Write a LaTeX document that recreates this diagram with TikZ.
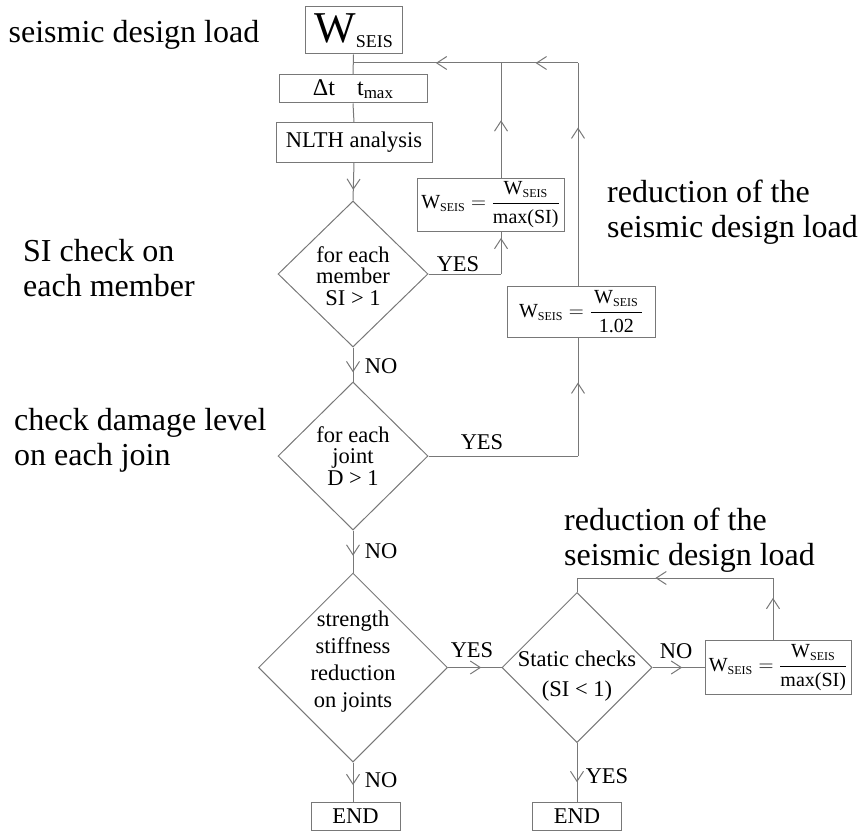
\documentclass[tikz,border=0pt]{standalone}
\usepackage{fontspec}
\setmainfont{Liberation Serif}
\usetikzlibrary{shapes.geometric,arrows.meta,decorations.markings,calc}
\definecolor{lineg}{RGB}{120,120,120}
\newcommand{\fs}[2]{\fontsize{#1}{#2}\selectfont}
\newcommand{\wsub}{\mbox{W}_{\mbox{\fs{12}{12}SEIS}}}
\newcommand{\wfrac}[1]{$\wsub=\displaystyle\frac{\wsub}{\mbox{#1}}$}
\begin{document}
\begin{tikzpicture}[x=1pt,y=-1pt,
  conn/.style={lineg, line width=1pt},
  arrowat/.style={postaction={decorate,decoration={markings,mark=at position #1 with {\arrow{Straight Barb[length=10pt,width=13pt,line width=1pt]}}}}},
  procbox/.style={draw=lineg, line width=1pt, inner sep=0pt, align=center, text=black},
  fbox/.style={procbox, font=\fs{20}{24}},
  decision/.style={diamond, draw=lineg, line width=1pt, inner sep=0pt},
  dtext/.style={inner sep=0pt, align=center, font=\fs{22.5}{21.5}},
  lbl/.style={inner sep=0pt, font=\fs{22.5}{22.5}},
  side/.style={inner sep=0pt, align=left, font=\fs{32}{35}}
]
\useasboundingbox (0,0) rectangle (859,832);

% side texts
\node[side] (s1) at (134,35) {seismic design load};
\node[side, anchor=west] (s2) at (23,268) {SI check on\\each member};
\node[side, anchor=west] (s3) at (14,440) {check damage level\\on each join};
\node[side, anchor=west] (s4) at (607,212) {reduction of the\\seismic design load};
\node[side, anchor=west] (s5) at (564,540) {reduction of the\\seismic design load};

% boxes
\node[procbox, minimum width=97pt, minimum height=47pt] (w) at (353.5,30.5)
  {{\fs{44}{44}W}{\fs{18}{18}\raisebox{-5pt}{SEIS}}};
\node[procbox, minimum width=148pt, minimum height=28pt] (dt) at (353,89)
  {{\fs{24}{24}Δt\hspace{22pt}t}{\fs{17}{17}\raisebox{-3pt}{max}}};
\node[procbox, minimum width=156pt, minimum height=39pt, font=\fs{22.5}{22.5}] (nl) at (354,142.5) {NLTH analysis};
\node[fbox, minimum width=147pt, minimum height=53pt] (b1) at (490.5,204.5) {\wfrac{max(SI)}};
\node[fbox, minimum width=148pt, minimum height=51pt] (b2) at (581,311.5) {\wfrac{\hspace{8pt}1.02\hspace{8pt}}};
\node[fbox, minimum width=146pt, minimum height=54pt] (b3) at (778,667.5) {\wfrac{max(SI)}};
\node[procbox, minimum width=89pt, minimum height=28pt, font=\fs{22.5}{22.5}] (e1) at (355.5,816) {END};
\node[procbox, minimum width=89pt, minimum height=28pt, font=\fs{22.5}{22.5}] (e2) at (577,816) {END};

% decisions
\node[decision, minimum width=150pt, minimum height=146pt] (d1) at (353,274) {};
\node[dtext] (t1) at (353,276) {for each\\member\\SI > 1};
\node[decision, minimum width=150pt, minimum height=148pt] (d2) at (353,456) {};
\node[dtext] (t2) at (353,456) {for each\\joint\\D > 1};
\node[decision, minimum width=189pt, minimum height=189pt] (d3) at (353,667.5) {};
\node[dtext, font=\fs{22.5}{27}] (t3) at (353,662) {strength\\stiffness\\reduction\\on joints};
\node[decision, minimum width=150pt, minimum height=150pt] (d4) at (577,667.5) {};
\node[dtext, font=\fs{22.5}{30}] (t4) at (577,676) {Static checks\\(SI < 1)};

% junction coordinates
\coordinate (cT) at (353,63);
\coordinate (cA) at (501,63);
\coordinate (cB) at (578,63);
\coordinate (k1) at (501,274);
\coordinate (k2) at (578,456);
\coordinate (k3) at (773,578);
\coordinate (k4) at (577,578);

% connectors
\draw[conn] (w.south) -- (dt.north);
\draw[conn] (dt.south) -- (nl.north);
\draw[conn, arrowat=0.72] (nl.south) -- (d1.north);
\draw[conn, arrowat=0.73] (d1.south) -- (d2.north);
\draw[conn] (d1.east) -- (k1);
\draw[conn, arrowat=0.85] (k1) -- (b1.south -| k1);
\draw[conn, arrowat=0.5] (b1.north -| k1) -- (cA);
\draw[conn, arrowat=0.44] (cA) -- (cT);
\draw[conn] (d2.east) -- (k2);
\draw[conn, arrowat=0.62] (k2) -- (b2.south -| k2);
\draw[conn, arrowat=0.71] (b2.north -| k2) -- (cB);
\draw[conn, arrowat=0.55] (cB) -- (cA);
\draw[conn, arrowat=0.6] (d2.south) -- (d3.north);
\draw[conn, arrowat=0.62] (d3.east) -- (d4.west);
\draw[conn, arrowat=0.57] (d4.east) -- (b3.west);
\draw[conn, arrowat=0.68] (b3.north -| k3) -- (k3);
\draw[conn, arrowat=0.6] (k3) -- (k4);
\draw[conn] (k4) -- (d4.north);
\draw[conn, arrowat=0.58] (d3.south) -- (d3.south |- e1.north);
\draw[conn, arrowat=0.67] (d4.south) -- (e2.north);

% connector labels
\node[lbl] (y1) at (458,264) {YES};
\node[lbl] (n1) at (381,366) {NO};
\node[lbl] (y2) at (482,442) {YES};
\node[lbl] (n2) at (381,551) {NO};
\node[lbl] (y3) at (472,650) {YES};
\node[lbl] (n3) at (676,651) {NO};
\node[lbl] (n4) at (381,780) {NO};
\node[lbl] (y4) at (607,776) {YES};
\end{tikzpicture}
\end{document}
